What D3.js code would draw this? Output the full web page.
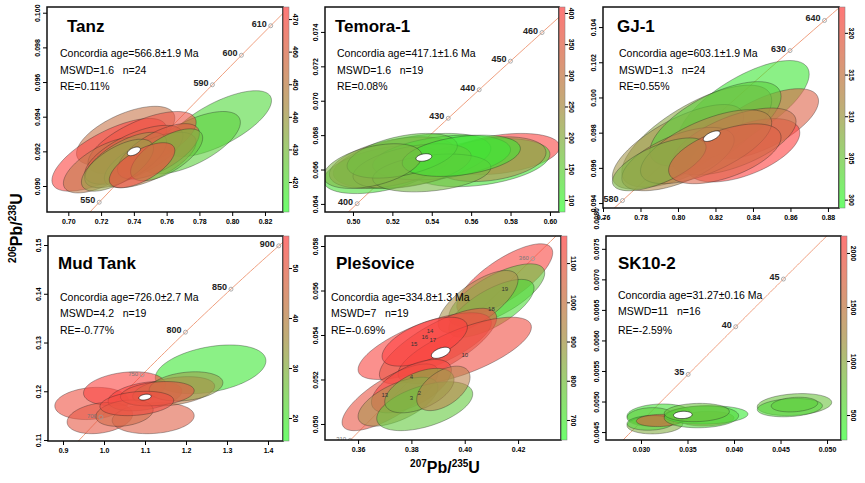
<!DOCTYPE html>
<html><head><meta charset="utf-8">
<script src="https://cdn.jsdelivr.net/npm/d3@7"></script>
<style>body{margin:0;background:#fff}text{font-family:Arial,"Liberation Sans",sans-serif;white-space:pre}</style>
</head><body><svg id="c" width="865" height="483"></svg>
<script>
// ---------- DATA ----------
// ellipse: [cx, cy, a(x half-extent), b(y half-extent), rho, colourValue]
const tanzEll=[[0.792,0.0936,0.032,0.0019,0.7,418],[0.775,0.0925,0.030,0.0018,0.65,421],[0.735,0.0929,0.030,0.0017,0.6,452],
[0.725,0.0918,0.035,0.0021,0.7,472],[0.745,0.0925,0.033,0.0018,0.65,466],[0.722,0.0912,0.025,0.0016,0.65,450],
[0.740,0.0918,0.030,0.0017,0.65,460],[0.750,0.0915,0.028,0.0016,0.65,445],[0.735,0.0915,0.025,0.0016,0.65,440],
[0.755,0.0920,0.025,0.0016,0.65,462],[0.730,0.0912,0.022,0.0015,0.65,436],[0.760,0.0918,0.022,0.0015,0.65,425],[0.745,0.0912,0.020,0.0013,0.65,469]];
const tanzMean=[0.740,0.0920,0.004,0.00025,0.5];
const tanzAges=[550,590,600,610];
const temEll=[[0.575,0.0669,0.030,0.0012,0.35,400],[0.565,0.0664,0.035,0.0014,0.35,100],[0.570,0.0666,0.028,0.0013,0.3,250],
[0.530,0.0665,0.040,0.0016,0.45,120],[0.515,0.0660,0.030,0.0014,0.45,110],[0.520,0.0664,0.032,0.0015,0.45,230],
[0.545,0.0667,0.035,0.0013,0.35,90],[0.530,0.0662,0.030,0.0013,0.45,200],[0.540,0.0658,0.030,0.0011,0.3,170],
[0.525,0.0668,0.028,0.0013,0.45,140],[0.555,0.0668,0.030,0.0012,0.35,100],[0.510,0.0662,0.025,0.0013,0.45,180]];
const temMean=[0.536,0.0667,0.004,0.00022,0.3];
const temAges=[400,430,440,450,460];
const gjEll=[[0.835,0.0995,0.035,0.0026,0.7,300],[0.845,0.0985,0.030,0.0020,0.65,318],[0.810,0.0978,0.040,0.0029,0.7,308],
[0.800,0.0972,0.035,0.0024,0.7,310],[0.820,0.0985,0.035,0.0024,0.65,303],[0.835,0.0970,0.030,0.0018,0.55,323],
[0.830,0.0975,0.033,0.0019,0.6,315],[0.800,0.0965,0.030,0.0018,0.6,312],[0.815,0.0972,0.035,0.0021,0.65,313],
[0.790,0.0962,0.025,0.0015,0.65,306],[0.825,0.0968,0.030,0.0017,0.55,318]];
const gjMean=[0.818,0.0978,0.0045,0.0003,0.6];
const gjAges=[580,630,640];
const mudEll=[[1.26,0.1245,0.135,0.0050,0.35,17],[0.97,0.1175,0.09,0.0033,0.15,52],[1.05,0.1205,0.10,0.0035,0.25,55],
[0.99,0.1145,0.08,0.0032,0.25,50],[1.12,0.1145,0.10,0.0032,0.15,48],[1.10,0.1190,0.09,0.0030,0.35,56],
[1.17,0.1200,0.10,0.0030,0.35,40],[1.20,0.1210,0.09,0.0030,0.25,32],[1.05,0.1155,0.07,0.0027,0.25,45],
[1.13,0.1195,0.09,0.0025,0.25,50],[1.08,0.1175,0.09,0.0025,0.25,53]];
const mudMean=[1.10,0.1188,0.015,0.0006,0.3];
const mudAges=[700,750,800,850,900];
const plesEll=[[0.415,0.0565,0.018,0.0016,0.75,1150],[0.412,0.0558,0.018,0.0014,0.7,750],[0.410,0.0552,0.016,0.0013,0.7,700],
[0.405,0.0555,0.015,0.0014,0.7,900],[0.385,0.0535,0.025,0.0015,0.7,1150],[0.390,0.0535,0.022,0.0017,0.75,1100],
[0.400,0.0533,0.025,0.0015,0.7,1120],[0.385,0.0537,0.016,0.0011,0.6,1170],[0.372,0.0512,0.018,0.0015,0.75,1100],
[0.380,0.0517,0.015,0.0012,0.6,1150],[0.375,0.0510,0.015,0.0011,0.6,900],[0.385,0.0508,0.018,0.0011,0.5,750],
[0.383,0.0515,0.013,0.0010,0.5,800],[0.392,0.0516,0.010,0.0010,0.5,950]];
const plesMean=[0.391,0.0532,0.0035,0.00025,0.5];
const plesAges=[310,360];
const plesLabels=[["19",0.415,0.0560],["18",0.410,0.0551],["17",0.388,0.0537],["16",0.385,0.0538],["15",0.381,0.0535],
["14",0.387,0.0541],["10",0.400,0.0530],["13",0.370,0.0512],["4",0.380,0.0520],["3",0.380,0.0511],["2",0.383,0.0513]];
const skEll=[[0.032,0.00478,0.0035,0.00018,0.1,400],[0.031,0.00475,0.0025,0.00015,0.1,600],[0.0315,0.00462,0.0030,0.00015,0.1,900],
[0.031,0.00465,0.0025,0.00012,0.1,500],[0.032,0.00469,0.0025,0.00010,0.1,1800],[0.037,0.00472,0.0030,0.00012,0.1,1500],
[0.037,0.00478,0.0045,0.00015,0.1,300],[0.0365,0.00475,0.0040,0.00018,0.1,500],[0.036,0.00482,0.0035,0.00015,0.1,700],
[0.0465,0.00495,0.0040,0.00018,0.2,700],[0.046,0.00490,0.0035,0.00015,0.2,500],[0.0465,0.00495,0.0025,0.00012,0.2,600]];
const skMean=[0.0345,0.00478,0.0010,0.00006,0.1];
const skAges=[35,40,45,50];

const panels=[
 {name:"Tanz",age:"Concordia age=566.8±1.9 Ma",mswd:"MSWD=1.6   n=24",re:"RE=0.11%",ell:tanzEll,mean:tanzMean,ages:tanzAges,
  xd:[0.687,0.831],yd:[0.0885,0.10033],xt:[0.70,0.72,0.74,0.76,0.78,0.80,0.82],yt:[0.090,0.092,0.094,0.096,0.098,0.100],yf:".3f",xf:".2f",
  cd:[410.8,473.7],ct:[420,430,440,450,460,470],box:[47,7,283,212],tt:[20,25],st:[13,50,67,83]},
 {name:"Temora-1",age:"Concordia age=417.1±1.6 Ma",mswd:"MSWD=1.6   n=19",re:"RE=0.08%",ell:temEll,mean:temMean,ages:temAges,xk:1.04,
  xd:[0.4858,0.6046],yd:[0.06353,0.07545],xt:[0.50,0.52,0.54,0.56,0.58,0.60],yt:[0.064,0.066,0.068,0.070,0.072,0.074],yf:".3f",xf:".2f",
  cd:[80.7,409.6],ct:[100,150,200,250,300,350,400],box:[325,7,559,212],tt:[10,25],st:[12,50,67,83]},
 {name:"GJ-1",age:"Concordia age=603.1±1.9 Ma",mswd:"MSWD=1.3   n=24",re:"RE=0.55%",ell:gjEll,mean:gjMean,ages:gjAges,
  xd:[0.76,0.8859],yd:[0.09372,0.10514],xt:[0.76,0.78,0.80,0.82,0.84,0.86,0.88],yt:[0.094,0.096,0.098,0.100,0.102,0.104],yf:".3f",xf:".2f",
  cd:[299,323.1],ct:[300,305,310,315,320],box:[603,7,839,208],tt:[14,25],st:[16,50,67,83]},
 {name:"Mud Tank",age:"Concordia age=726.0±2.7 Ma",mswd:"MSWD=4.2   n=19",re:"RE=-0.77%",ell:mudEll,mean:mudMean,ages:mudAges,small:[700,750],
  xd:[0.8634,1.4366],yd:[0.1098,0.15185],xt:[0.9,1.0,1.1,1.2,1.3,1.4],yt:[0.11,0.12,0.13,0.14,0.15],yf:".2f",xf:".1f",
  cd:[15.4,56.4],ct:[20,30,40,50],box:[48,236,283,441],tt:[10,33],st:[12,65,81,98]},
 {name:"Plešovice",age:"Concordia age=334.8±1.3 Ma",mswd:"MSWD=7   n=19",re:"RE=-0.69%",ell:plesEll,mean:plesMean,ages:plesAges,small:[310,360],labels:plesLabels,
  xd:[0.3476,0.4361],yd:[0.04928,0.05845],xt:[0.36,0.38,0.40,0.42],yt:[0.050,0.052,0.054,0.056,0.058],yf:".3f",xf:".2f",
  cd:[649,1169],ct:[700,800,900,1000,1100],box:[325,236,561,440],tt:[11,33],st:[6,65,81,98]},
 {name:"SK10-2",age:"Concordia age=31.27±0.16 Ma",mswd:"MSWD=11   n=16",re:"RE=-2.59%",ell:skEll,mean:skMean,ages:skAges,
  xd:[0.02624,0.0515],yd:[0.00437,0.00771],xt:[0.030,0.035,0.040,0.045,0.050],yt:[0.0045,0.0050,0.0055,0.0060,0.0065,0.0070,0.0075,0.0080],yf:".4f",xf:".3f",
  cd:[269,2157],ct:[500,1000,1500,2000],box:[606,236,841,440],tt:[12,33],st:[12,63,79,98]}
];
// ---------- DRAW ----------
const L238=1.55125e-10,L235=9.8485e-10;
const svg=d3.select("#c");
const defs=svg.append("defs");
const cols=["#33ee33","#b09050","#ff4040"];
const barCols=["#55ff55","#b4a060","#ff6060"];
const gr=defs.append("linearGradient").attr("id","cg").attr("x1",0).attr("y1",1).attr("x2",0).attr("y2",0);
barCols.forEach((c,i)=>gr.append("stop").attr("offset",i/2).attr("stop-color",c));

panels.forEach((p,pi)=>{
  const k=p.xk||1;
  const conc=t=>[k*(Math.exp(L235*t*1e6)-1),Math.exp(L238*t*1e6)-1];
  const [x0,y0,x1,y1]=p.box;
  const x=d3.scaleLinear().domain(p.xd).range([x0,x1]);
  const y=d3.scaleLinear().domain(p.yd).range([y1,y0]);
  const col=d3.scaleLinear().domain([p.cd[0],(p.cd[0]+p.cd[1])/2,p.cd[1]]).range(cols);
  const g=svg.append("g");
  defs.append("clipPath").attr("id","cp"+pi).append("rect").attr("x",x0).attr("y",y0).attr("width",x1-x0).attr("height",y1-y0);
  const pg=g.append("g").attr("clip-path",`url(#cp${pi})`);
  const tmin=p.ages[0]*0.5, tmax=p.ages[p.ages.length-1]*1.3;
  const pts=d3.range(0,201).map(i=>conc(tmin+(tmax-tmin)*i/200));
  pg.append("path").attr("d",d3.line().x(d=>x(d[0])).y(d=>y(d[1]))(pts)).attr("fill","none").attr("stroke","#f0a080").attr("stroke-width",1);
  const ell=(e)=>{const [cx,cy,a,b,r]=e;const s=Math.sqrt(1-r*r);
    return d3.line().x(t=>x(cx+a*Math.cos(t))).y(t=>y(cy+b*(r*Math.cos(t)+s*Math.sin(t))))(d3.range(0,73).map(i=>i*Math.PI/36))+"Z";};
  pg.selectAll(".e").data(p.ell).join("path").attr("d",ell).attr("fill",d=>col(d[5])).attr("fill-opacity",0.6)
    .attr("stroke","#222").attr("stroke-opacity",0.5).attr("stroke-width",0.7);
  pg.append("path").attr("d",ell(p.mean)).attr("fill","#fff").attr("stroke","#000").attr("stroke-width",0.6);
  p.ages.forEach(a=>{const [cx,cy]=conc(a);const sm=p.small&&p.small.includes(a);
    pg.append("circle").attr("cx",x(cx)).attr("cy",y(cy)).attr("r",2).attr("fill","none").attr("stroke","#999").attr("stroke-width",0.8);
    pg.append("text").attr("x",x(cx)-4).attr("y",y(cy)+1).attr("text-anchor","end").attr("font-size",sm?6:9).attr("font-weight",sm?"normal":"bold")
      .attr("fill",sm?"#777":"#222").text(a);});
  (p.labels||[]).forEach(l=>pg.append("text").attr("x",x(l[1])).attr("y",y(l[2])).attr("text-anchor","middle").attr("font-size",6).attr("fill","#333").text(l[0]));
  g.append("rect").attr("x",x0).attr("y",y0).attr("width",x1-x0).attr("height",y1-y0).attr("fill","none").attr("stroke","#111").attr("stroke-width",1.5);
  const xa=g.append("g").attr("transform",`translate(0,${y1})`).call(d3.axisBottom(x).tickValues(p.xt).tickFormat(d3.format(p.xf)).tickSize(4));
  const ya=g.append("g").attr("transform",`translate(${x0},0)`).call(d3.axisLeft(y).tickValues(p.yt).tickFormat(d3.format(p.yf)).tickSize(4));
  [xa,ya].forEach(a=>{a.select(".domain").remove();a.selectAll("text").attr("font-size",7).attr("font-weight","bold").attr("font-family","Arial");});
  ya.selectAll(".tick text").attr("transform","translate(-7,0) rotate(-90)").attr("x",0).attr("dy","0").attr("text-anchor","middle");
  g.append("rect").attr("x",x1).attr("y",y0).attr("width",6).attr("height",y1-y0).attr("fill","url(#cg)").attr("opacity",0.85).attr("stroke","#666").attr("stroke-width",0.5);
  const cs=d3.scaleLinear().domain(p.cd).range([y1,y0]);
  const ca=g.append("g").attr("transform",`translate(${x1+6},0)`).call(d3.axisRight(cs).tickValues(p.ct).tickFormat(d3.format("d")).tickSize(3));
  ca.select(".domain").remove();
  ca.selectAll("text").attr("font-size",7).attr("font-weight","bold").attr("font-family","Arial").attr("transform","translate(6,0) rotate(90)").attr("x",0).attr("dy","0.35em").attr("text-anchor","middle");
  g.append("text").attr("x",x0+p.tt[0]).attr("y",y0+p.tt[1]).attr("font-size",17).attr("font-weight","bold").text(p.name);
  [p.age,p.mswd,p.re].forEach((t,i)=>g.append("text").attr("x",x0+p.st[0]).attr("y",y0+p.st[i+1]).attr("font-size",10.5).attr("xml:space","preserve").text(t));
});
const yt=svg.append("text").attr("transform","translate(22,228) rotate(-90)").attr("text-anchor","middle").attr("font-size",16).attr("font-weight","bold");
yt.append("tspan").attr("font-size",10).attr("dy",-6).text("206");yt.append("tspan").attr("dy",6).text("Pb/");
yt.append("tspan").attr("font-size",10).attr("dy",-6).text("238");yt.append("tspan").attr("dy",6).text("U");
const xt=svg.append("text").attr("x",445).attr("y",473).attr("text-anchor","middle").attr("font-size",16).attr("font-weight","bold");
xt.append("tspan").attr("font-size",10).attr("dy",-6).text("207");xt.append("tspan").attr("dy",6).text("Pb/");
xt.append("tspan").attr("font-size",10).attr("dy",-6).text("235");xt.append("tspan").attr("dy",6).text("U");
</script></body></html>
